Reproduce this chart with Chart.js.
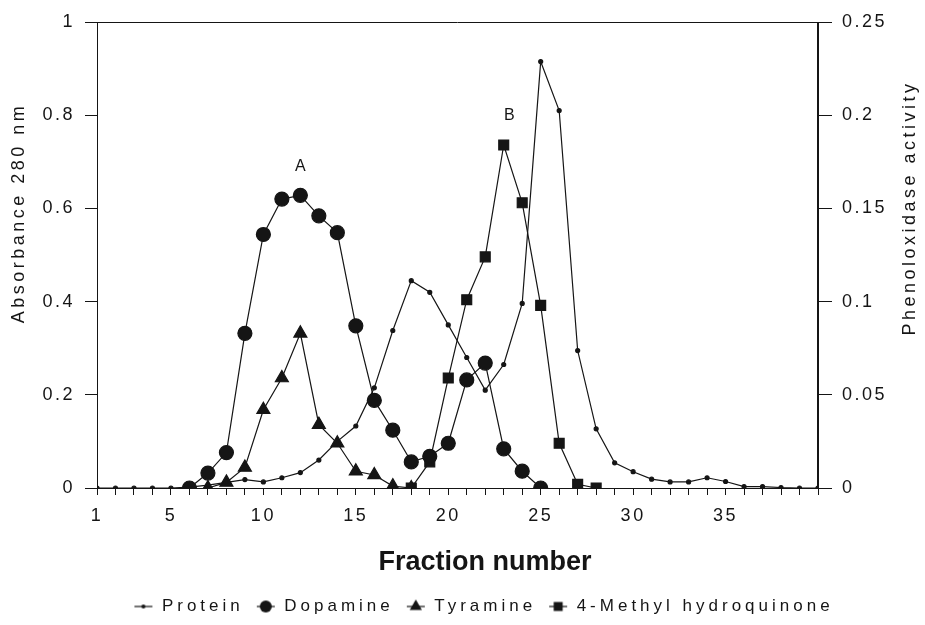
<!DOCTYPE html>
<html>
<head>
<meta charset="utf-8">
<script src="https://cdn.jsdelivr.net/npm/chart.js@4.4.1/dist/chart.umd.min.js"></script>
<style>
  html, body { margin: 0; padding: 0; background: #fff; }
  #wrap { width: 925px; height: 625px; }
</style>
</head>
<body>
<div id="wrap"><canvas id="chart" width="925" height="625"></canvas></div>
<script>
// fraction numbers and values
const proteinFractions = [1, 2, 3, 4, 5, 6, 7, 8, 9, 10, 11, 12, 13, 14, 15, 16, 17, 18, 19, 20,
  21, 22, 23, 24, 25, 26, 27, 28, 29, 30, 31, 32, 33, 34, 35, 36, 37, 38, 39, 40];
const proteinAbs = [0, 0, 0, 0, 0, 0.002, 0.006, 0.012, 0.018, 0.013, 0.022, 0.033, 0.06, 0.1, 0.133, 0.215, 0.338, 0.445, 0.42, 0.35,
  0.28, 0.21, 0.265, 0.396, 0.915, 0.81, 0.295, 0.127, 0.054, 0.035, 0.019, 0.013, 0.013, 0.022, 0.014, 0.003, 0.003, 0.001, 0, 0];

const dopamineFractions = [6, 7, 8, 9, 10, 11, 12, 13, 14, 15, 16, 17, 18, 19, 20, 21, 22, 23, 24, 25];
const dopamineActivity = [0, 0.008, 0.019, 0.083, 0.136, 0.155, 0.157, 0.146, 0.137, 0.087,
  0.047, 0.031, 0.014, 0.017, 0.024, 0.058, 0.067, 0.021, 0.009, 0];

const tyramineFractions = [7, 8, 9, 10, 11, 12, 13, 14, 15, 16, 17, 18];
const tyramineActivity = [0, 0.003, 0.011, 0.042, 0.059, 0.083, 0.034, 0.024, 0.009, 0.007, 0.001, 0];

const mhqFractions = [18, 19, 20, 21, 22, 23, 24, 25, 26, 27, 28];
const mhqActivity = [0, 0.014, 0.059, 0.101, 0.124, 0.184, 0.153, 0.098, 0.024, 0.002, 0];

const xTickLabels = [1, 5, 10, 15, 20, 25, 30, 35];
const leftTickLabels = ["0", "0.2", "0.4", "0.6", "0.8", "1"];
const rightTickLabels = ["0", "0.05", "0.1", "0.15", "0.2", "0.25"];

// peak letters
const peakNames = ["A", "B"];
const peakFractions = [12, 23.3];
const peakAbs = [0.69, 0.8];

const ink = "#151515";
const font = "'Liberation Sans', Arial, sans-serif";

function points(xs, ys) {
  return xs.map((x, i) => ({ x: x, y: ys[i] }));
}

// small "-o-" style legend symbols
function legendSymbol(style, r) {
  const c = document.createElement("canvas");
  c.width = 20;
  c.height = 16;
  const g = c.getContext("2d");
  g.strokeStyle = ink;
  g.fillStyle = ink;
  g.lineWidth = 1.2;
  g.beginPath();
  g.moveTo(1, 8);
  g.lineTo(19, 8);
  g.stroke();
  g.beginPath();
  if (style === "circle") {
    g.arc(10, 8, r, 0, Math.PI * 2);
  } else if (style === "triangle") {
    g.moveTo(10, 8 - r);
    g.lineTo(10 + r * 0.87, 8 + r * 0.5);
    g.lineTo(10 - r * 0.87, 8 + r * 0.5);
    g.closePath();
  } else {
    g.rect(10 - r * 0.75, 8 - r * 0.75, r * 1.5, r * 1.5);
  }
  g.fill();
  return c;
}
const legendSymbols = [legendSymbol("circle", 2), legendSymbol("circle", 6), legendSymbol("triangle", 7), legendSymbol("rect", 6)];

const spacingPlugin = {
  id: "spacing",
  beforeUpdate(chart) {
    // the legend text in the figure is set wider than the tick labels
    const lg = chart.legend;
    if (!lg || lg._spaced) return;
    lg._spaced = true;
    const fit = lg.fit;
    const draw = lg.draw;
    lg.fit = function () {
      const ctx = this.ctx;
      ctx.letterSpacing = "4px";
      fit.apply(this, arguments);
      ctx.letterSpacing = "2.5px";
    };
    lg.draw = function () {
      const ctx = this.ctx;
      ctx.save();
      ctx.letterSpacing = "4px";
      ctx.translate(21, 0);
      draw.apply(this, arguments);
      ctx.restore();
    };
  },
  beforeLayout(chart) { chart.ctx.letterSpacing = "2.5px"; },
  beforeDraw(chart) { chart.ctx.letterSpacing = "2.5px"; }
};

const framePlugin = {
  id: "frame",
  afterDraw(chart) {
    const { ctx, chartArea: a, scales } = chart;
    ctx.save();
    ctx.strokeStyle = ink;
    ctx.lineWidth = 1;
    ctx.beginPath();
    ctx.moveTo(a.left, a.top + 0.5);
    ctx.lineTo(a.right, a.top + 0.5);
    ctx.stroke();
    ctx.lineWidth = 2;
    ctx.beginPath();
    ctx.moveTo(a.right, a.top);
    ctx.lineTo(a.right, a.bottom);
    ctx.stroke();

    // peak letters
    ctx.fillStyle = ink;
    ctx.font = "16px " + font;
    ctx.letterSpacing = "0px";
    ctx.textAlign = "center";
    ctx.textBaseline = "middle";
    peakNames.forEach((t, i) => {
      ctx.fillText(t, scales.x.getPixelForValue(peakFractions[i]), scales.y.getPixelForValue(peakAbs[i]));
    });

    // axis titles
    ctx.font = "18px " + font;
    ctx.letterSpacing = "3.5px";
    ctx.save();
    ctx.translate(19, 213);
    ctx.rotate(-Math.PI / 2);
    ctx.fillText("Absorbance 280 nm", 0, 0);
    ctx.restore();
    ctx.save();
    ctx.translate(910, 208);
    ctx.rotate(-Math.PI / 2);
    ctx.fillText("Phenoloxidase activity", 0, 0);
    ctx.restore();

    ctx.letterSpacing = "0px";
    ctx.font = "bold 27px " + font;
    ctx.fillText("Fraction number", 485, 563);
    ctx.restore();
  }
};

const baseLine = { borderColor: ink, backgroundColor: ink, borderWidth: 1.2, pointBorderColor: ink, pointBackgroundColor: ink, tension: 0 };

new Chart(document.getElementById("chart"), {
  type: "line",
  data: {
    datasets: [
      { ...baseLine, label: "Protein", data: points(proteinFractions, proteinAbs), yAxisID: "y", pointStyle: "circle", pointRadius: 2 },
      { ...baseLine, label: "Dopamine", data: points(dopamineFractions, dopamineActivity), yAxisID: "y2", pointStyle: "circle", pointRadius: 7 },
      { ...baseLine, label: "Tyramine", data: points(tyramineFractions, tyramineActivity), yAxisID: "y2", pointStyle: "triangle", pointRadius: 7.5 },
      { ...baseLine, label: "4-Methyl hydroquinone", data: points(mhqFractions, mhqActivity), yAxisID: "y2", pointStyle: "rect", pointRadius: 7 }
    ]
  },
  options: {
    responsive: false,
    animation: false,
    layout: { padding: { top: 22, bottom: 0, left: 0, right: 0 } },
    plugins: {
      tooltip: { enabled: false },
      legend: {
        position: "bottom",
        labels: {
          usePointStyle: true,
          pointStyleWidth: 20,
          boxHeight: 16,
          padding: 12,
          color: ink,
          font: { size: 17, family: font },
          generateLabels: chart => {
            const items = Chart.defaults.plugins.legend.labels.generateLabels(chart);
            items.forEach((it, i) => { it.pointStyle = legendSymbols[i]; });
            return items;
          }
        }
      }
    },
    scales: {
      x: {
        type: "linear",
        min: 1,
        max: 40,
        afterFit: s => { s.height = 98; },
        border: { color: ink, width: 1 },
        grid: { drawOnChartArea: false, color: ink, tickLength: 7 },
        ticks: {
          stepSize: 1,
          autoSkip: false,
          maxRotation: 0,
          padding: 10,
          color: ink,
          font: { size: 18, family: font },
          callback: v => (xTickLabels.includes(v) ? String(v) : "")
        }
      },
      y: {
        position: "left",
        min: 0,
        max: 1,
        afterFit: s => { s.width = 97; },
        border: { color: ink, width: 1 },
        grid: { drawOnChartArea: false, color: ink, tickLength: 12 },
        ticks: {
          stepSize: 0.2,
          padding: 10,
          color: ink,
          font: { size: 18, family: font },
          callback: (v, i) => leftTickLabels[i]
        }
      },
      y2: {
        position: "right",
        min: 0,
        max: 0.25,
        afterFit: s => { s.width = 107; },
        border: { color: ink, width: 1 },
        grid: { drawOnChartArea: false, color: ink, tickLength: 14 },
        ticks: {
          stepSize: 0.05,
          padding: 10,
          color: ink,
          font: { size: 18, family: font },
          callback: (v, i) => rightTickLabels[i]
        }
      }
    }
  },
  plugins: [spacingPlugin, framePlugin]
});
</script>
</body>
</html>
